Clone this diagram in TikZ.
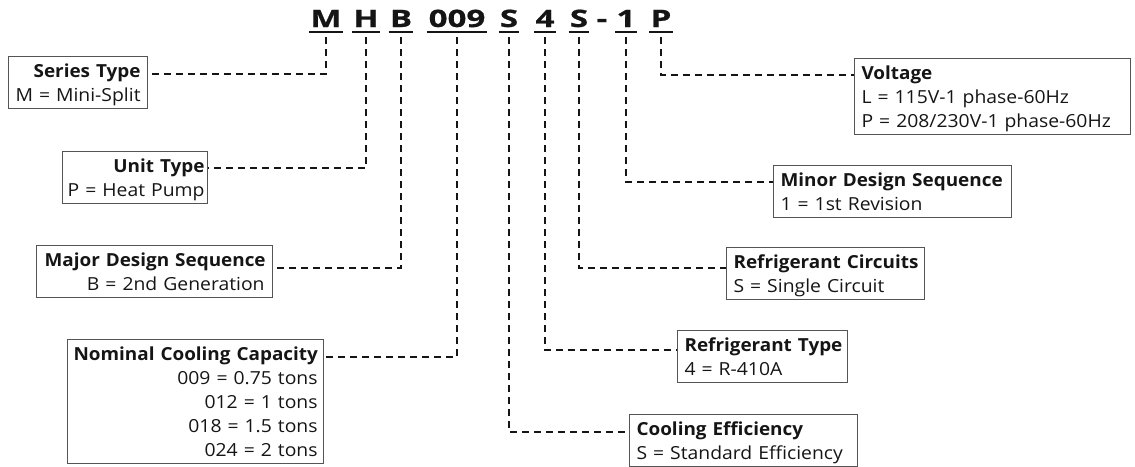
\documentclass[tikz,border=0pt]{standalone}
\usepackage{fontspec}
\setmainfont{Open Sans}
\newfontfamily\rfont{Open Sans}[FakeStretch=1.075]
\newfontfamily\bfont{Open Sans}[FakeStretch=1.05]
\newfontfamily\hfont{Open Sans}[FakeStretch=1.38,FakeBold=0.8]
\usetikzlibrary{calc}
\definecolor{boxgray}{HTML}{555555}
\definecolor{ink}{HTML}{151515}
\newcommand\fstrut{\rule{0pt}{21pt}}
\newcommand\lstrut{\rule[-6.5pt]{0pt}{6.5pt}}
\newcommand\boxtitle[1]{\mbox{\bfont\bfseries #1}}
\newcommand\boxline[1]{\mbox{#1}}
\tikzset{
  box/.style={draw=boxgray, line width=1.1pt, inner xsep=7pt, inner ysep=0pt,
    anchor=north west, font=\fontsize{18}{24}\selectfont\rfont, text=ink},
  lbox/.style={box, align=right},
  rbox/.style={box, align=left},
  hdr/.style={font=\fontsize{24}{24}\selectfont\hfont\bfseries, text=ink,
    text height=17pt, text depth=0pt, inner ysep=5pt, inner xsep=1pt, anchor=base},
  uline/.style={line width=2pt, draw=ink},
  conn/.style={line width=1.8pt, draw=ink, dash pattern=on 7pt off 5pt}
}
\begin{document}
\begin{tikzpicture}[x=1pt,y=-1pt]
\useasboundingbox (0,0) rectangle (1135,466);
% header
\node[hdr] (hM) at (326,27) {M};
\node[hdr] (hH) at (366,27) {H};
\node[hdr] (hB) at (401,27) {B};
\node[hdr] (h009) at (457,27) {009};
\node[hdr] (hS) at (509,27) {S};
\node[hdr] (h4) at (545,27) {4};
\node[hdr] (hSS) at (579,27) {S};
\node[hdr] (hdash) at (602,27) {-};
\node[hdr] (h1) at (626,27) {1};
\node[hdr] (hP) at (661,27) {P};
\foreach \n in {hM,hH,hB,h009,hS,h4,hSS,h1,hP}
  \draw[uline] (\n.south west) -- (\n.south east);
% left boxes
\node[lbox, inner xsep=7pt, text width=125pt] (st) at (8,56)
  {\fstrut\boxtitle{Series Type}\\ \boxline{M = Mini-Split}\lstrut};
\node[lbox, inner xsep=3pt, text width=139pt] (ut) at (62,151)
  {\fstrut\boxtitle{Unit Type}\\ \boxline{P = Heat Pump}\lstrut};
\node[lbox, inner xsep=8pt, text width=220pt] (md) at (36,245)
  {\fstrut\boxtitle{Major Design Sequence}\\ \boxline{B = 2nd Generation}\lstrut};
\node[lbox, inner xsep=6pt, text width=244pt] (nc) at (67,339)
  {\fstrut\boxtitle{Nominal Cooling Capacity}\\ \boxline{009 = 0.75 tons}\\ \boxline{012 = 1 tons}\\ \boxline{018 = 1.5 tons}\\ \boxline{024 = 2 tons}\lstrut};
% right boxes
\node[rbox, text width=262pt] (vo) at (854,58)
  {\fstrut\boxtitle{Voltage}\\ \boxline{L = 115V-1 phase-60Hz}\\ \boxline{P = 208/230V-1 phase-60Hz}\lstrut};
\node[rbox, text width=224pt] (mi) at (773,165)
  {\fstrut\boxtitle{Minor Design Sequence}\\ \boxline{1 = 1st Revision}\lstrut};
\node[rbox, text width=184pt] (rc) at (726,247)
  {\fstrut\boxtitle{Refrigerant Circuits}\\ \boxline{S = Single Circuit}\lstrut};
\node[rbox, text width=156pt] (rt) at (677,330)
  {\fstrut\boxtitle{Refrigerant Type}\\ \boxline{4 = R-410A}\lstrut};
\node[rbox, text width=214pt] (ce) at (629,414)
  {\fstrut\boxtitle{Cooling Efficiency}\\ \boxline{S = Standard Efficiency}\lstrut};
% connectors
\draw[conn] ([yshift=-5pt]hM.south) |- ($(st.north east)+(0,18)$);
\draw[conn] ([yshift=-5pt]hH.south) |- ($(ut.north east)+(0,17)$);
\draw[conn] ([yshift=-5pt]hB.south) |- ($(md.north east)+(0,23)$);
\draw[conn] ([yshift=-5pt]h009.south) |- ($(nc.north east)+(0,18)$);
\draw[conn] ([yshift=-5pt]hP.south) |- ($(vo.north west)+(0,17)$);
\draw[conn] ([yshift=-5pt]h1.south) |- ($(mi.north west)+(0,17)$);
\draw[conn] ([yshift=-5pt]hSS.south) |- ($(rc.north west)+(0,21)$);
\draw[conn] ([yshift=-5pt]h4.south) |- ($(rt.north west)+(0,20)$);
\draw[conn] ([yshift=-5pt]hS.south) |- ($(ce.north west)+(0,18)$);
\end{tikzpicture}
\end{document}
